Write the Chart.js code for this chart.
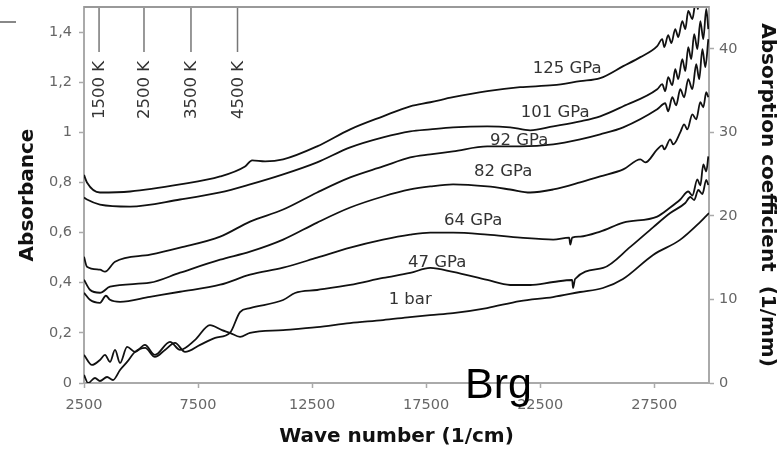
<!DOCTYPE html>
<html>
<head>
<meta charset="utf-8">
<script src="https://cdn.jsdelivr.net/npm/chart.js@4.4.1/dist/chart.umd.min.js"></script>
<style>
  html, body { margin: 0; padding: 0; background: #fff; }
  #wrap { position: relative; width: 782px; height: 450px; }
  #dash { position: absolute; left: 0; top: 21px; width: 16px; height: 2px; background: #888; }
</style>
</head>
<body>
<div id="wrap">
  <canvas id="c" width="782" height="450"></canvas>
  <div id="dash"></div>
</div>
<script>
// ---- axis ticks ----
const xTickValues = [2500, 7500, 12500, 17500, 22500, 27500];
const xTickLabels = ['2500', '7500', '12500', '17500', '22500', '27500'];
const yTickValues = [0, 0.2, 0.4, 0.6, 0.8, 1, 1.2, 1.4];
const yTickLabels = ['0', '0,2', '0,4', '0,6', '0,8', '1', '1,2', '1,4'];
const y2TickValues = [0, 10, 20, 30, 40];
const y2TickLabels = ['0', '10', '20', '30', '40'];

// ---- series (wave number 1/cm, absorbance) ----
const wn125 = [2500, 2630, 3200, 4520, 6710, 8470, 9560, 9870, 10440, 11230, 12720, 14170, 15610, 16800, 17680, 18680, 20180, 21620, 23070, 24250, 25130, 26140, 26890, 27630, 27850, 27940, 28110, 28250, 28420, 28550, 28730, 28860, 28990, 29170, 29300, 29430];
const ab125 = [0.83, 0.80, 0.76, 0.764, 0.792, 0.824, 0.864, 0.888, 0.884, 0.892, 0.944, 1.012, 1.064, 1.104, 1.12, 1.14, 1.164, 1.18, 1.188, 1.204, 1.216, 1.264, 1.30, 1.344, 1.372, 1.34, 1.388, 1.356, 1.412, 1.38, 1.444, 1.412, 1.484, 1.452, 1.51, 1.49];

const wn101 = [2500, 2630, 3200, 4520, 6710, 8470, 9780, 11230, 12720, 14170, 15610, 16800, 17680, 18680, 20180, 21180, 22060, 23070, 24250, 25130, 26140, 27630, 27850, 27980, 28110, 28290, 28420, 28550, 28730, 28860, 28990, 29120, 29250, 29390, 29520, 29650, 29780, 29870];
const ab101 = [0.74, 0.732, 0.712, 0.704, 0.732, 0.76, 0.792, 0.832, 0.88, 0.94, 0.98, 1.004, 1.012, 1.02, 1.024, 1.02, 1.008, 1.024, 1.044, 1.064, 1.104, 1.172, 1.192, 1.164, 1.22, 1.188, 1.252, 1.212, 1.292, 1.244, 1.34, 1.292, 1.392, 1.332, 1.444, 1.372, 1.492, 1.412];

const wn92 = [2500, 2630, 3200, 3420, 3860, 5400, 6710, 8470, 9780, 11230, 12720, 14170, 15610, 16800, 17680, 18680, 20180, 21620, 23070, 24250, 25130, 26140, 27630, 27980, 28110, 28290, 28460, 28640, 28810, 28990, 29170, 29340, 29470, 29610, 29740, 29870];
const ab92 = [0.504, 0.464, 0.452, 0.444, 0.484, 0.512, 0.54, 0.584, 0.644, 0.692, 0.76, 0.82, 0.864, 0.90, 0.912, 0.924, 0.944, 0.944, 0.952, 0.972, 0.992, 1.02, 1.092, 1.116, 1.084, 1.14, 1.108, 1.172, 1.14, 1.212, 1.172, 1.272, 1.212, 1.332, 1.26, 1.372];

const wn82 = [2500, 2760, 3200, 3640, 5390, 6710, 8470, 9780, 11230, 12720, 14170, 15610, 16800, 17680, 18680, 20180, 21180, 22060, 23070, 24250, 25130, 26140, 26890, 27110, 27630, 27850, 27940, 28200, 28330, 28640, 28810, 28950, 29170, 29340, 29520, 29650, 29780, 29870];
const ab82 = [0.412, 0.372, 0.36, 0.384, 0.40, 0.44, 0.492, 0.524, 0.572, 0.64, 0.70, 0.744, 0.772, 0.784, 0.792, 0.784, 0.772, 0.76, 0.772, 0.80, 0.824, 0.852, 0.892, 0.88, 0.932, 0.948, 0.932, 0.972, 0.952, 1.0, 1.032, 1.012, 1.072, 1.052, 1.12, 1.10, 1.16, 1.14];

const wn64 = [2500, 2760, 3200, 3460, 3640, 4080, 5390, 6710, 8470, 9780, 11230, 12720, 14170, 15610, 16800, 17680, 18680, 20180, 21620, 23070, 23770, 23820, 23900, 24250, 25130, 26140, 27630, 28200, 28640, 28990, 29170, 29390, 29520, 29650, 29780, 29870];
const ab64 = [0.36, 0.332, 0.32, 0.348, 0.332, 0.324, 0.344, 0.364, 0.392, 0.432, 0.46, 0.50, 0.54, 0.572, 0.592, 0.60, 0.60, 0.592, 0.58, 0.572, 0.58, 0.552, 0.58, 0.584, 0.604, 0.64, 0.664, 0.70, 0.732, 0.764, 0.748, 0.812, 0.788, 0.872, 0.844, 0.904];

const wn47 = [2500, 2680, 2980, 3200, 3510, 3770, 4080, 4390, 4740, 5180, 5610, 6050, 6490, 6930, 7590, 8250, 8900, 9340, 9780, 11230, 11750, 12720, 14170, 15610, 16800, 17680, 18680, 20180, 21180, 22060, 23070, 23900, 23940, 24030, 25260, 26450, 27460, 28200, 28860, 29080, 29250, 29430, 29610, 29780, 29870];
const ab47 = [0.032, 0.0, 0.02, 0.008, 0.024, 0.012, 0.052, 0.084, 0.124, 0.14, 0.104, 0.132, 0.16, 0.124, 0.152, 0.18, 0.2, 0.283, 0.299, 0.331, 0.359, 0.371, 0.391, 0.419, 0.439, 0.459, 0.443, 0.411, 0.391, 0.391, 0.403, 0.411, 0.379, 0.415, 0.459, 0.543, 0.622, 0.678, 0.718, 0.742, 0.73, 0.77, 0.754, 0.81, 0.79];

const wn1bar = [2500, 2850, 3200, 3420, 3640, 3860, 4080, 4390, 4740, 5170, 5610, 6270, 6710, 7370, 8020, 8550, 8900, 9340, 9780, 11230, 12720, 14160, 15610, 16790, 17670, 18680, 20170, 21610, 23060, 24250, 25250, 26130, 27450, 28630, 29510, 29770, 29900];
const ab1bar = [0.112, 0.072, 0.092, 0.112, 0.084, 0.132, 0.08, 0.144, 0.124, 0.152, 0.112, 0.164, 0.132, 0.172, 0.231, 0.211, 0.2, 0.184, 0.2, 0.211, 0.223, 0.239, 0.251, 0.263, 0.271, 0.279, 0.299, 0.327, 0.343, 0.363, 0.379, 0.415, 0.511, 0.571, 0.642, 0.666, 0.678];

// ---- curve labels (text, anchor in data units) ----
const curveNames = ['125 GPa', '101 GPa', '92 GPa', '82 GPa', '64 GPa', '47 GPa', '1 bar'];
const curveLabelWn = [23680, 23160, 21580, 20880, 19560, 17980, 16800];
const curveLabelAb = [1.253, 1.077, 0.965, 0.842, 0.646, 0.479, 0.331];

// ---- temperature markers ----
const tempNames = ['1500 K', '2500 K', '3500 K', '4500 K'];
const tempWn = [3160, 5130, 7190, 9230];
const tempLineTop = 1.5;
const tempLineBottom = 1.32;
const tempLabelAb = 1.169;

const series = [
  [wn125, ab125], [wn101, ab101], [wn92, ab92], [wn82, ab82],
  [wn64, ab64], [wn47, ab47], [wn1bar, ab1bar]
];

const datasets = series.map(([wn, ab], i) => ({
  label: curveNames[i],
  data: wn.map((x, j) => ({ x: x, y: ab[j] })),
  borderColor: '#111',
  borderWidth: 1.8,
  pointRadius: 0,
  cubicInterpolationMode: 'monotone',
  fill: false,
  xAxisID: 'x',
  yAxisID: 'y'
}));
tempWn.forEach((w, i) => {
  datasets.push({
    label: tempNames[i],
    data: [{ x: w, y: tempLineTop }, { x: w, y: tempLineBottom }],
    borderColor: '#777',
    borderWidth: 1.5,
    pointRadius: 0,
    tension: 0,
    xAxisID: 'x',
    yAxisID: 'y'
  });
});

const FONT = 'DejaVu Sans';

const textPlugin = {
  id: 'texts',
  afterDatasetsDraw(chart) {
    const ctx = chart.ctx;
    const xs = chart.scales.x, ys = chart.scales.y, ca = chart.chartArea;
    ctx.save();
    // top frame line
    ctx.strokeStyle = '#999';
    ctx.lineWidth = 2;
    ctx.beginPath();
    ctx.moveTo(ca.left, ca.top);
    ctx.lineTo(ca.right, ca.top);
    ctx.stroke();
    // curve labels
    ctx.fillStyle = '#333';
    ctx.font = '16.5px "' + FONT + '"';
    ctx.textAlign = 'center';
    ctx.textBaseline = 'middle';
    curveNames.forEach((t, i) => {
      ctx.fillText(t, xs.getPixelForValue(curveLabelWn[i]), ys.getPixelForValue(curveLabelAb[i]));
    });
    // temperature labels
    tempNames.forEach((t, i) => {
      ctx.save();
      ctx.translate(xs.getPixelForValue(tempWn[i]) + 1, ys.getPixelForValue(tempLabelAb));
      ctx.rotate(-Math.PI / 2);
      ctx.fillText(t, 0, 0);
      ctx.restore();
    });
    ctx.restore();
  },
  afterDraw(chart) {
    const ctx = chart.ctx;
    ctx.save();
    ctx.fillStyle = '#000';
    ctx.font = '43px "Liberation Sans"';
    ctx.textAlign = 'left';
    ctx.textBaseline = 'alphabetic';
    ctx.fillText('Brg', 465, 398);
    ctx.restore();
  }
};

const tickFont = { family: FONT, size: 14.5 };
const titleFont = { family: FONT, size: 20, weight: 'bold' };

new Chart(document.getElementById('c'), {
  type: 'line',
  data: { datasets: datasets },
  plugins: [textPlugin],
  options: {
    responsive: false,
    animation: false,
    layout: { padding: { left: 16, right: 3, top: 7, bottom: 1 } },
    plugins: { legend: { display: false }, tooltip: { enabled: false } },
    scales: {
      x: {
        type: 'linear', position: 'bottom', min: 2500, max: 29900,
        afterBuildTicks: s => { s.ticks = xTickValues.map(v => ({ value: v })); },
        afterFit: s => { s.height = 66; s.paddingLeft = 0; s.paddingRight = 0; },
        grid: { drawOnChartArea: false, drawTicks: true, tickLength: 5, tickColor: '#aaa', tickWidth: 1.5 },
        border: { display: true, color: '#aaa', width: 2 },
        ticks: { font: tickFont, color: '#666', padding: 9, maxRotation: 0, autoSkip: false, callback: (v, i) => xTickLabels[i] },
        title: { display: true, text: 'Wave number (1/cm)', font: titleFont, color: '#111', padding: 0 }
      },
      y: {
        type: 'linear', position: 'left', min: 0, max: 1.5,
        afterBuildTicks: s => { s.ticks = yTickValues.map(v => ({ value: v })); },
        afterFit: s => { s.width = 68; s.paddingTop = 0; s.paddingBottom = 0; },
        grid: { drawOnChartArea: false, drawTicks: true, tickLength: 5, tickColor: '#aaa', tickWidth: 1.5 },
        border: { display: true, color: '#aaa', width: 2 },
        ticks: { font: tickFont, color: '#666', padding: 7, callback: (v, i) => yTickLabels[i] },
        title: { display: true, text: 'Absorbance', font: titleFont, color: '#111', padding: 0 }
      },
      y2: {
        type: 'linear', position: 'right', min: 0, max: 45,
        afterBuildTicks: s => { s.ticks = y2TickValues.map(v => ({ value: v })); },
        afterFit: s => { s.width = 70; s.paddingTop = 0; s.paddingBottom = 0; },
        grid: { drawOnChartArea: false, drawTicks: true, tickLength: 5, tickColor: '#aaa', tickWidth: 1.5 },
        border: { display: true, color: '#aaa', width: 2 },
        ticks: { font: tickFont, color: '#666', padding: 5, callback: (v, i) => y2TickLabels[i] },
        title: { display: true, text: 'Absorption coefficient  (1/mm)', font: titleFont, color: '#111', padding: 0 }
      }
    }
  }
});
</script>
</body>
</html>
